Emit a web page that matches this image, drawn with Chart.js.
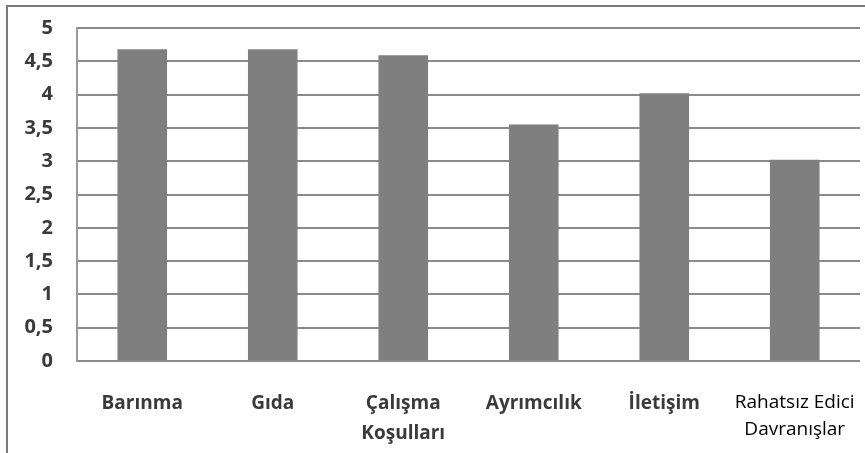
<!DOCTYPE html>
<html>
<head>
<meta charset="utf-8">
<script src="https://cdn.jsdelivr.net/npm/chart.js@4"></script>
<style>
  html, body { margin: 0; padding: 0; background: #fff; overflow: hidden; }
  #wrap { position: relative; width: 865px; height: 453px; overflow: hidden; }
  #frame { position: absolute; left: 6px; top: 5px; width: 900px; height: 500px; border: 2px solid #7b7b7b; }
  canvas { position: absolute; left: 0; top: 0; }
</style>
</head>
<body>
<div id="wrap">
  <div id="frame"></div>
  <canvas id="c" width="865" height="453"></canvas>
</div>
<script>
const categories = ['Barınma', 'Gıda', ['Çalışma', 'Koşulları'], 'Ayrımcılık', 'İletişim', ['Rahatsız Edici', 'Davranışlar']];
const values = [4.68, 4.68, 4.59, 3.55, 4.02, 3.02];
const yMin = 0, yMax = 5, yStep = 0.5;

const ctx = document.getElementById('c');
new Chart(ctx, {
  type: 'bar',
  data: {
    labels: categories,
    datasets: [{
      data: values,
      backgroundColor: '#7f7f7f',
      borderWidth: 0,
      barPercentage: 0.38,
      categoryPercentage: 1.0
    }]
  },
  options: {
    responsive: false,
    animation: false,
    devicePixelRatio: 1,
    layout: { padding: { left: 0, right: 5, top: 28, bottom: 0 } },
    plugins: { legend: { display: false }, tooltip: { enabled: false } },
    scales: {
      x: {
        grid: { display: true, drawOnChartArea: false, drawTicks: true, tickLength: 28, color: 'rgba(0,0,0,0)' },
        border: { display: false },
        ticks: {
          maxRotation: 0,
          autoSkip: false,
          padding: 0,
          font: (c) => c.index === 5
            ? { family: 'Open Sans', size: 19, weight: 'normal', lineHeight: 1.42 }
            : { family: 'Open Sans', size: 19, weight: 'bold', lineHeight: 1.58 },
          color: (c) => c.index === 5 ? '#000' : '#3a3a3a'
        },
        afterFit: (s) => { s.height = 92; }
      },
      y: {
        min: yMin,
        max: yMax,
        grid: { color: '#8a8a8a', lineWidth: 2, drawTicks: false },
        border: { display: true, color: '#9a9a9a', width: 2 },
        ticks: {
          stepSize: yStep,
          padding: 24,
          font: { family: 'Open Sans', size: 20, weight: 'bold' },
          color: '#3a3a3a',
          callback: (v) => String(v).replace('.', ',')
        },
        afterFit: (s) => { s.width = 77; s.paddingTop = 0; s.paddingBottom = 0; }
      }
    }
  }
});
</script>
</body>
</html>
